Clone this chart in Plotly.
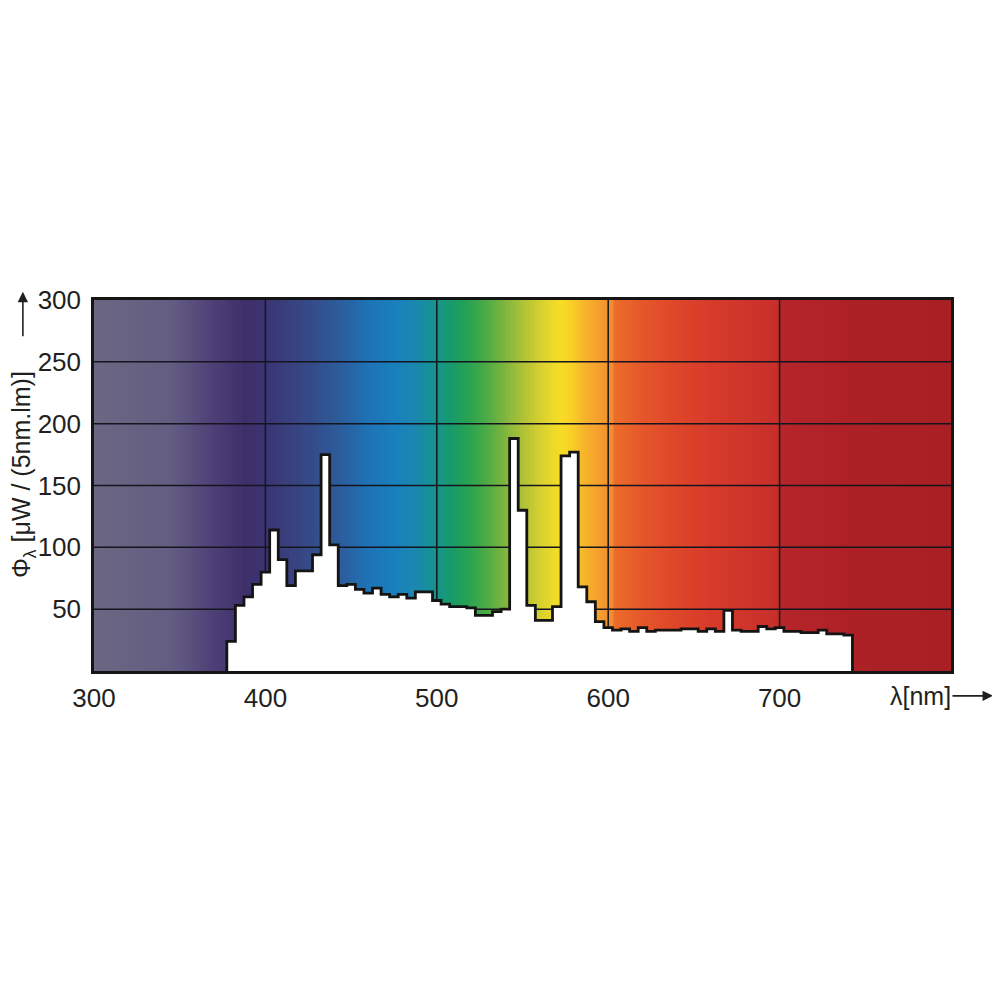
import numpy as np
import plotly.graph_objects as go

# ---- data ----
wavelength = list(range(380, 745, 5))
phi = [24, 53, 60, 70, 80, 114, 90, 69, 81, 81,
       94, 175, 102, 69, 70, 66, 63, 67, 62, 60,
       62, 59, 64, 64, 57, 54, 52, 52, 51, 45,
       45, 48, 50, 188, 130, 53, 41, 41, 52, 174,
       177, 68, 56, 40, 35, 33, 34, 32, 35, 32,
       33, 33, 33, 34, 34, 32, 34, 32, 49, 33,
       32, 32, 36, 34, 35, 32, 32, 31, 31, 33,
       30, 30, 29]
bin_width = 5

x_ticks = [300, 400, 500, 600, 700]
y_ticks = [50, 100, 150, 200, 250, 300]
x_grid = [400, 500, 600, 700]
y_grid = [50, 100, 150, 200, 250]
x_range = [300, 800]
y_range = [0, 300]

# background spectrum colour stops (wavelength nm, colour)
stop_nm = [300, 345, 370, 388, 400, 415, 430, 445, 460, 475, 485, 495, 503,
           510, 518, 528, 540, 552, 562, 572, 578, 586, 596, 602, 604, 620,
           640, 665, 698, 701, 740, 800]
stop_col = ["#6a6782", "#635d82", "#4d3f76", "#3e2f6a", "#3b3472", "#39417f",
            "#344e8c", "#2b5e9e", "#1d73b5", "#1a7fbd", "#1b85b3", "#178f9c",
            "#17967f", "#1a9c66", "#27a352", "#48aa46", "#80b63e", "#b7c435",
            "#dcd22e", "#f7dd25", "#f8d126", "#f6b42b", "#f49b2e", "#f28c30",
            "#ec6c2a", "#e5562a", "#de4529", "#d4392a", "#c82f2b", "#b52529",
            "#ad2126", "#a81f24"]

# ---- build ----
fig = go.Figure()

bg_x = np.arange(x_range[0], x_range[1] + 1, 1)
span = x_range[1] - x_range[0]
colorscale = [[(w - x_range[0]) / span, c] for w, c in zip(stop_nm, stop_col)]
fig.add_trace(go.Heatmap(
    x=bg_x, y=y_range, z=[bg_x, bg_x], colorscale=colorscale,
    zmin=x_range[0], zmax=x_range[1], showscale=False, hoverinfo="skip",
    zsmooth=False))

# grid lines (drawn above the background, below the spectrum)
gx, gy = [], []
for v in x_grid:
    gx += [v, v, None]
    gy += [y_range[0], y_range[1], None]
for v in y_grid:
    gx += [x_range[0], x_range[1], None]
    gy += [v, v, None]
fig.add_trace(go.Scatter(x=gx, y=gy, mode="lines",
                         line=dict(color="#15151f", width=1.5),
                         hoverinfo="skip", showlegend=False))

# spectrum step outline
edges = [w - bin_width / 2 for w in wavelength] + [wavelength[-1] + bin_width / 2]
sx = [edges[0]] + edges[:-1] + [edges[-1]]
sy = [0] + phi + [0]
fig.add_trace(go.Scatter(x=sx, y=sy, mode="lines", line_shape="hv",
                         fill="tozeroy", fillcolor="white",
                         line=dict(color="#141414", width=2.8),
                         hoverinfo="skip", showlegend=False))

font_family = "Liberation Sans, Arial, sans-serif"
txt_col = "#231f20"

fig.update_layout(
    width=1000, height=1000,
    margin=dict(l=86, r=57, t=292, b=337),
    paper_bgcolor="white", plot_bgcolor="white",
    showlegend=False,
    font=dict(family=font_family, size=26, color=txt_col),
    xaxis=dict(range=x_range, tickvals=x_ticks, showgrid=False, zeroline=False,
               showline=True, mirror=True, linecolor="#151515", linewidth=2.5,
               ticks="outside", ticklen=2, tickcolor="rgba(0,0,0,0)",
               tickfont=dict(size=26, color=txt_col)),
    yaxis=dict(range=y_range, tickvals=y_ticks, showgrid=False, zeroline=False,
               showline=True, mirror=True, linecolor="#151515", linewidth=2.5,
               ticks="outside", ticklen=5, tickcolor="rgba(0,0,0,0)",
               tickfont=dict(size=26, color=txt_col)),
)

# y-axis title (rotated) with upward arrow
fig.add_annotation(xref="paper", yref="paper", x=-0.082, y=0.53,
                   text="Φ<sub>λ</sub> [μW / (5nm.lm)]", textangle=-90,
                   showarrow=False, font=dict(size=25, color=txt_col),
                   xanchor="center", yanchor="middle")
fig.add_annotation(xref="paper", yref="paper", x=-0.083, y=1.022,
                   ax=0, ay=46, axref="pixel", ayref="pixel", text="",
                   showarrow=True, arrowhead=2, arrowsize=1.3, arrowwidth=1.6,
                   arrowcolor=txt_col)

# x-axis title with rightward arrow
fig.add_annotation(xref="paper", yref="paper", x=0.964, y=-0.067,
                   text="λ[nm]", showarrow=False,
                   font=dict(size=25, color=txt_col),
                   xanchor="center", yanchor="middle")
fig.add_annotation(xref="paper", yref="paper", x=1.049, y=-0.067,
                   ax=-42, ay=0, axref="pixel", ayref="pixel", text="",
                   showarrow=True, arrowhead=2, arrowsize=1.3, arrowwidth=1.6,
                   arrowcolor=txt_col)

fig.write_html("out.html")
